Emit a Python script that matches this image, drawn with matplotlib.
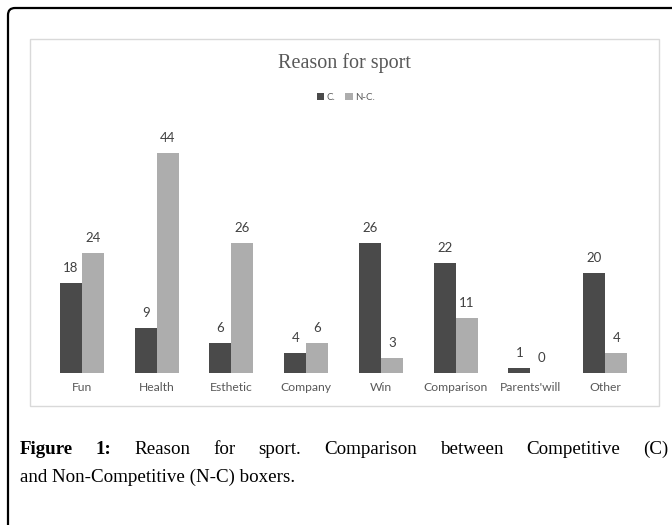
import matplotlib
matplotlib.use("Agg")
import matplotlib.pyplot as plt
from matplotlib.patches import FancyBboxPatch, Rectangle
from matplotlib.transforms import IdentityTransform
import numpy as np

categories = ["Fun", "Health", "Esthetic", "Company", "Win", "Comparison", "Parents'will", "Other"]
comp = [18, 9, 6, 4, 26, 22, 1, 20]
noncomp = [24, 44, 26, 6, 3, 11, 0, 4]
series_names = ["C.", "N-C."]
title = "Reason for sport"
caption_line1 = [("Figure", True), ("1:", True), ("Reason", False), ("for", False), ("sport.", False),
                 ("Comparison", False), ("between", False), ("Competitive", False), ("(C)", False)]
caption_line2 = "and Non-Competitive (N-C) boxers."

W, H = 672, 525
DPI = 100
fig = plt.figure(figsize=(W / DPI, H / DPI), dpi=DPI)
fig.patch.set_facecolor("white")

def fx(px):
    return px / W

def fy(py):
    return 1 - py / H

# outer rounded frame (pixel coords, y from bottom)
outer = FancyBboxPatch((8 + 7, -40), 720, (H - 8) + 40 - 7,
                       boxstyle="round,pad=7", transform=IdentityTransform(),
                       facecolor="none", edgecolor="black", linewidth=1.6, zorder=0)
fig.patches.append(outer)

# inner chart frame
inner = Rectangle((fx(30), fy(406)), fx(659) - fx(30), fy(39) - fy(406),
                  transform=fig.transFigure, facecolor="none", edgecolor="#d9d9d9",
                  linewidth=1.0, zorder=0)
fig.patches.append(inner)

dark = "#4a4a4a"
light = "#adadad"

ax_left = 44.6
ax_width = 598
ax = fig.add_axes([fx(ax_left), fy(373), ax_width / W, 250 / H])
x = np.arange(len(categories))
bw = 0.294
b1 = ax.bar(x - bw / 2, comp, bw, color=dark, label=series_names[0])
b2 = ax.bar(x + bw / 2, noncomp, bw, color=light, label=series_names[1])
ax.set_xlim(-0.5, len(categories) - 0.5)
ax.set_ylim(0, 50)
for s in ax.spines.values():
    s.set_visible(False)
ax.set_yticks([])
ax.set_xticks(x)
ax.set_xticklabels(categories, fontsize=8.7, color="#595959", family="Lato")
ax.tick_params(axis="x", length=0, pad=6.5)
ax.patch.set_visible(False)

for bars, vals in ((b1, comp), (b2, noncomp)):
    for r, v in zip(bars, vals):
        ax.annotate(str(v), (r.get_x() + r.get_width() / 2, r.get_height()),
                    xytext=(0, 10.5), textcoords="offset points", ha="center", va="center",
                    fontsize=9.5, color="#404040", family="Lato")

fig.text(fx(344.5), fy(63), title, ha="center", va="center", fontsize=14.5,
         color="#595959", family="Liberation Serif")

fig.legend(handles=[b1, b2], labels=series_names, loc="center", bbox_to_anchor=(fx(346), fy(97)),
           ncol=2, frameon=False, handlelength=0.75, handleheight=0.75,
           handletextpad=0.3, columnspacing=1.0, labelcolor="#595959",
           prop={"family": "Lato", "size": 7})

# caption, line 1 justified
cap_size = 13.7
renderer = fig.canvas.get_renderer()
texts = []
for word, bold in caption_line1:
    t = fig.text(0, fy(449), word, ha="left", va="center", fontsize=cap_size,
                 family="Liberation Serif", fontweight="bold" if bold else "normal", color="black")
    texts.append(t)
widths = [t.get_window_extent(renderer).width for t in texts]
x0, x1 = 20, 668
gap = (x1 - x0 - sum(widths)) / (len(texts) - 1)
cur = x0
for t, w in zip(texts, widths):
    t.set_x(fx(cur))
    cur += w + gap

fig.text(fx(20), fy(477), caption_line2, ha="left", va="center", fontsize=cap_size,
         family="Liberation Serif", color="black")

fig.savefig("out.png", dpi=DPI, facecolor="white")
